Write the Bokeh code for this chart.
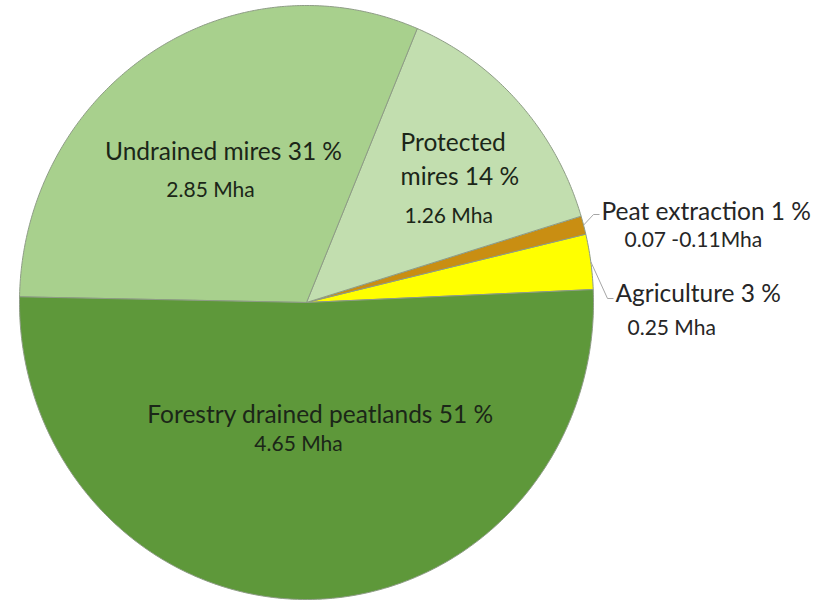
import numpy as np
from bokeh.plotting import figure
from bokeh.models import Range1d
from bokeh.core.properties import value
from bokeh.embed import file_html
from bokeh.resources import INLINE

# Peatland use shares (percent), in drawing order counter-clockwise from the right
categories = ["Agriculture", "Peat extraction", "Protected mires", "Undrained mires",
              "Forestry drained peatlands"]
shares = [3, 1, 14, 31, 51]
areas = ["0.25 Mha", "0.07 -0.11Mha", "1.26 Mha", "2.85 Mha", "4.65 Mha"]
colors = ["#FFFF00", "#C98E12", "#C2DEAF", "#A8D08D", "#5E983A"]

W, H = 824, 603
p = figure(width=W, height=H, output_backend="svg", toolbar_location=None,
           x_range=Range1d(0, W), y_range=Range1d(H, 0),
           min_border=0, outline_line_color=None)
p.axis.visible = False
p.grid.visible = False
p.background_fill_color = "white"
p.border_fill_color = "white"

# slightly elliptical pie
cx, cy, rx, ry = 306, 302, 287, 297
start = np.deg2rad(2.5)
fr = np.array(shares, dtype=float) / sum(shares)
ends = start + np.cumsum(fr) * 2 * np.pi
starts = ends - fr * 2 * np.pi

xs, ys = [], []
for a0, a1 in zip(starts, ends):
    t = np.linspace(a0, a1, max(8, int(np.degrees(a1 - a0) * 2)))
    xs.append([cx] + list(cx + rx * np.cos(t)) + [cx])
    ys.append([cy] + list(cy - ry * np.sin(t)) + [cy])

p.patches(xs, ys, fill_color=colors, line_color="#8E9C86", line_width=1)

font = value("Lato")
dark = "#1B2618"
BIG, SMALL = 24.5, 21

def label(x, y, txt, size, align="center", color=dark):
    p.text([x], [y], text=[txt], text_font=font, text_font_size=f"{size}px",
           text_align=align, text_baseline="middle", text_color=color)

# labels inside the pie
label(223, 150, f"{categories[3]} {shares[3]} %", BIG)
label(210, 188, areas[3], SMALL)
label(400, 141, "Protected", BIG, "left")
label(400, 175, f"mires {shares[2]} %", BIG, "left")
label(404, 214, areas[2], SMALL, "left")
label(320, 413, f"{categories[4]} {shares[4]} %", BIG)
label(298, 442, areas[4], SMALL)

# labels outside with leader lines
out = "#262626"
label(601, 210, f"{categories[1]} {shares[1]} %", BIG, "left", out)
label(624, 238, areas[1], SMALL, "left", out)
label(615, 292, f"{categories[0]} {shares[0]} %", BIG, "left", out)
label(627, 326, areas[0], SMALL, "left", out)

for k, (lx, ly) in zip([1, 0], [(599, 214), (613, 298)]):
    mid = (starts[k] + ends[k]) / 2
    ex, ey = cx + rx * np.cos(mid), cy - ry * np.sin(mid)
    p.line([ex, lx - 6, lx], [ey, ly, ly], line_color="#A6A6A6", line_width=1)

open("out.html", "w").write(file_html(p, INLINE))
